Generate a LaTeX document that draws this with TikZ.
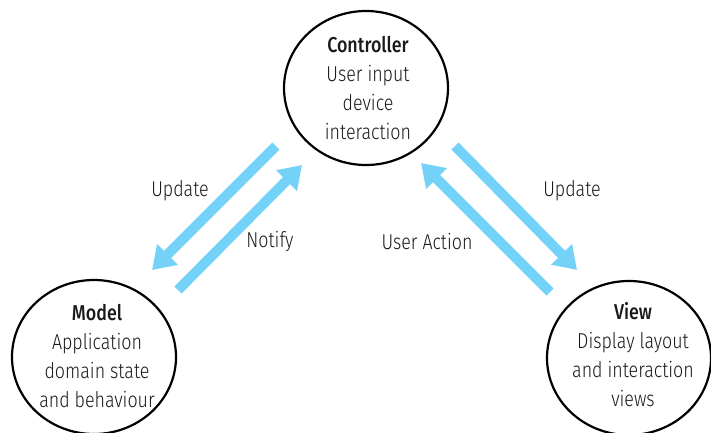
\documentclass[tikz,border=0pt]{standalone}
\usepackage{fontspec}
\setmainfont{Fira Sans Light}[BoldFont={Fira Sans Medium}, FakeStretch=0.83]
\usetikzlibrary{arrows.meta}
\definecolor{flow}{HTML}{74D2F8}
\definecolor{ink}{HTML}{1A1A1A}
\tikzset{
  rim/.style={draw=black, line width=2.2pt},
  body/.style={align=center, font=\fontsize{21.5}{29}\selectfont, text=ink},
  flowarrow/.style={draw=flow, line width=10pt, -{Triangle[width=28pt,length=22pt]}},
  tag/.style={font=\fontsize{21.5}{24}\selectfont, text=ink},
}
\begin{document}
\begin{tikzpicture}[x=1pt,y=-1pt]
  \useasboundingbox (0,0) rectangle (711,432);

  % the three parts
  \draw[rim] (366,88) ellipse [x radius=82, y radius=77];
  \draw[rim] (94,357) ellipse [x radius=82, y radius=77];
  \draw[rim] (629,358) ellipse [x radius=82, y radius=77];

  \node[body] (ctrl) at (368,88) {\textbf{Controller}\\User input\\device\\interaction};
  \node[body] (model) at (97,356) {\textbf{Model}\\Application\\domain state\\and behaviour};
  \node[body] (view) at (633,355) {\textbf{View}\\Display layout\\and interaction\\views};

  % arrow end points
  \coordinate (cm1) at (276,146);
  \coordinate (mc1) at (152,270);
  \coordinate (mc2) at (178,290);
  \coordinate (cm2) at (302,165);
  \coordinate (cv1) at (455,146);
  \coordinate (vc1) at (577,270);
  \coordinate (vc2) at (550,292);
  \coordinate (cv2) at (421,163);

  \draw[flowarrow] (cm1) -- (mc1);
  \draw[flowarrow] (mc2) -- (cm2);
  \draw[flowarrow] (cv1) -- (vc1);
  \draw[flowarrow] (vc2) -- (cv2);

  \node[tag] (l1) at (180,191) {Update};
  \node[tag] (l2) at (270,242) {Notify};
  \node[tag] (l3) at (572,191) {Update};
  \node[tag] (l4) at (427,242) {User Action};
\end{tikzpicture}
\end{document}
